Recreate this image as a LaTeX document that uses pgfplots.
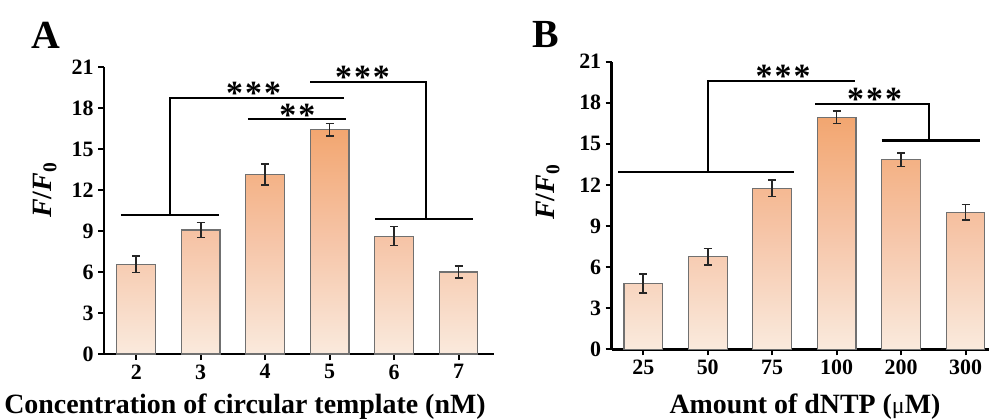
\documentclass[border=0pt]{standalone}
\usepackage{fontspec}
\setmainfont{Liberation Serif}
\usepackage{pgfplots}
\pgfplotsset{compat=1.18}

\definecolor{bartop}{HTML}{F2A670}
\definecolor{barmid}{HTML}{F6C5A8}
\definecolor{barbot}{HTML}{FAEADD}
\definecolor{baredge}{HTML}{707070}

\pgfplotsset{
  panel/.style={
    scale only axis,
    anchor=south west,
    ymin=0, ymax=21,
    ytick={0,3,...,21},
    axis x line*=bottom, axis y line*=left,
    axis line style={line width=2.6bp, -},
    tick align=outside,
    major tick length=6bp,
    tick style={line width=2bp, black},
    ticklabel style={font=\fontsize{22}{22}\selectfont\bfseries},
    /pgf/number format/assume math mode=true,
    yticklabel style={xshift=-1bp},
    xticklabel style={yshift=-1bp},
    clip=false,
  },
  bars/.style={
    ybar, bar width=0.6, draw=baredge, line width=1.1bp,
    top color=bartop, bottom color=barbot, middle color=barmid,
  },
}
\tikzset{
  brk/.style={line width=2.2bp, black},
  stars/.style={font=\fontsize{34}{34}\selectfont\bfseries, inner sep=0pt},
}
\newcommand{\st}{*\kern2bp}

\begin{document}
\begin{tikzpicture}[x=1bp,y=1bp]
% panel A
\begin{axis}[panel, at={(104bp,64bp)}, width=390bp, height=287bp,
  xmin=1.5, xmax=7.55, xtick={2,...,7}]
\addplot[bars, error bars/.cd, y dir=both, y explicit, error mark=|,
  error bar style={line width=1.7bp, black!85},
  error mark options={line width=1.7bp, mark size=4bp, black!85}]
  coordinates {
  (2,6.56) +- (0,0.6) (3,9.07) +- (0,0.55) (4,13.14) +- (0,0.75)
  (5,16.41) +- (0,0.45) (6,8.63) +- (0,0.7) (7,6.0) +- (0,0.42)
};
\draw[brk] (1.76,10.17) -- (3.29,10.17);
\draw[brk] (2.52,10.17) -- (2.52,18.75) -- (5.23,18.75);
\draw[brk] (3.73,17.2) -- (5.26,17.2);
\draw[brk] (5.71,9.85) -- (7.22,9.85);
\draw[brk] (6.49,9.85) -- (6.49,19.9) -- (4.70,19.9);
\node[stars] at (3.82,19.05) {\st\st*};
\node[stars] at (4.5,17.5) {\st*};
\node[stars] at (5.51,20.25) {\st\st*};
\end{axis}
% panel B
\begin{axis}[panel, at={(611.7bp,68.7bp)}, width=377bp, height=287.6bp,
  xmin=-0.49, xmax=5.36, xtick={0,...,5},
  xticklabels={25,50,75,100,200,300}]
\addplot[bars, error bars/.cd, y dir=both, y explicit, error mark=|,
  error bar style={line width=1.7bp, black!85},
  error mark options={line width=1.7bp, mark size=4bp, black!85}]
  coordinates {
  (0,4.79) +- (0,0.7) (1,6.76) +- (0,0.6) (2,11.75) +- (0,0.6)
  (3,16.93) +- (0,0.45) (4,13.84) +- (0,0.5) (5,10.0) +- (0,0.57)
};
\draw[brk] (-0.39,12.92) -- (2.34,12.92);
\draw[brk] (1.0,12.92) -- (1.0,19.58) -- (3.28,19.58);
\draw[brk] (3.70,15.25) -- (5.22,15.25);
\draw[brk] (4.43,15.25) -- (4.43,17.93) -- (2.66,17.93);
\node[stars] at (2.17,19.95) {\st\st*};
\node[stars] at (3.59,18.25) {\st\st*};
\end{axis}
% panel letters and axis titles
\node[font=\fontsize{40}{40}\selectfont\bfseries] at (46,383) {A};
\node[font=\fontsize{40}{40}\selectfont\bfseries] at (546,383) {B};
\node[font=\fontsize{28}{28}\selectfont\bfseries, rotate=90] at (45,228)
  {\textit{F}/\textit{F}\textsubscript{0}};
\node[font=\fontsize{28}{28}\selectfont\bfseries, rotate=90] at (548,226)
  {\textit{F}/\textit{F}\textsubscript{0}};
\node[font=\fontsize{28}{28}\selectfont\bfseries, anchor=base] at (245,5)
  {Concentration of circular template (nM)};
\node[font=\fontsize{28}{28}\selectfont\bfseries, anchor=base] at (805,5)
  {Amount of dNTP ({\fontsize{24}{24}\selectfont\mdseries μ}M)};
\pgfresetboundingbox
\useasboundingbox (0,0) rectangle (989,418);
\end{tikzpicture}
\end{document}
